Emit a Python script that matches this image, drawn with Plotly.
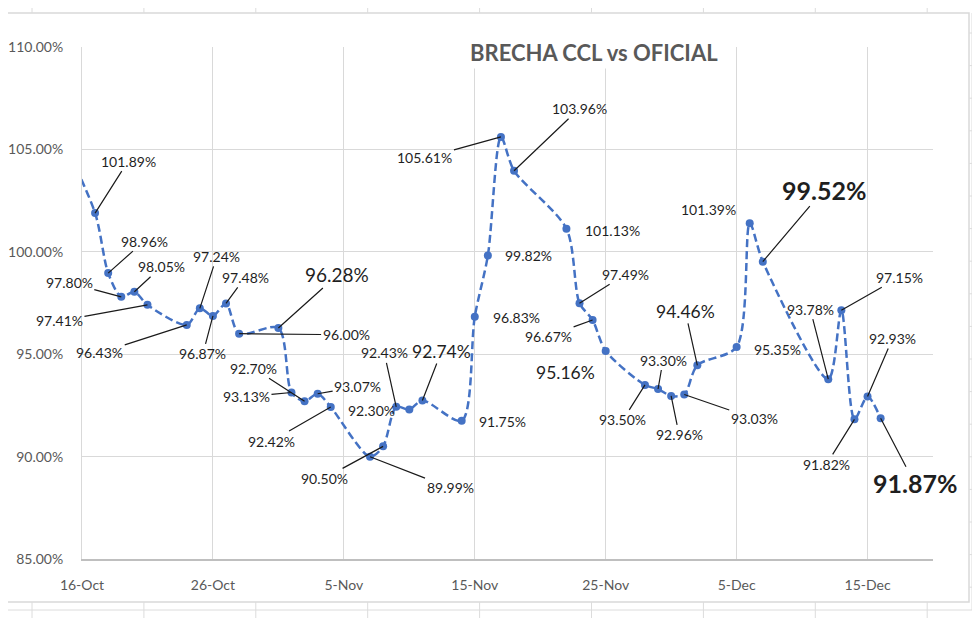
import plotly.graph_objects as go

# ---------------- data ----------------
dates = ["2022-10-14", "2022-10-17", "2022-10-18", "2022-10-19", "2022-10-20", "2022-10-21",
         "2022-10-24", "2022-10-25", "2022-10-26", "2022-10-27", "2022-10-28",
         "2022-10-31", "2022-11-01", "2022-11-02", "2022-11-03", "2022-11-04",
         "2022-11-07", "2022-11-08", "2022-11-09", "2022-11-10", "2022-11-11",
         "2022-11-14", "2022-11-15", "2022-11-16", "2022-11-17", "2022-11-18",
         "2022-11-22", "2022-11-23", "2022-11-24", "2022-11-25",
         "2022-11-28", "2022-11-29", "2022-11-30", "2022-12-01", "2022-12-02",
         "2022-12-05", "2022-12-06", "2022-12-07",
         "2022-12-12", "2022-12-13", "2022-12-14", "2022-12-15", "2022-12-16"]
brecha = [106.2, 101.89, 98.96, 97.80, 98.05, 97.41,
          96.43, 97.24, 96.87, 97.48, 96.00,
          96.28, 93.13, 92.70, 93.07, 92.42,
          89.99, 90.50, 92.43, 92.30, 92.74,
          91.75, 96.83, 99.82, 105.61, 103.96,
          101.13, 97.49, 96.67, 95.16,
          93.50, 93.30, 92.96, 93.03, 94.46,
          95.35, 101.39, 99.52,
          93.78, 97.15, 91.82, 92.93, 91.87]
tick_dates = ["2022-10-16", "2022-10-26", "2022-11-05", "2022-11-15",
              "2022-11-25", "2022-12-05", "2022-12-15"]
tick_labels = ["16-Oct", "26-Oct", "5-Nov", "15-Nov", "25-Nov", "5-Dec", "15-Dec"]
y_ticks = [85, 90, 95, 100, 105, 110]
title_text = "BRECHA CCL vs OFICIAL"

# ---------------- label placement (pixel offsets, style) ----------------
# one entry per labelled point (index 1..end); (ax, ay, font size, bold, leader line)
label_style = [
    (33, -52, 14, False, True),   # Oct17
    (36, -32, 14, False, True),   # Oct18
    (-52, -14, 14, False, True),  # Oct19
    (27, -25, 14, False, True),   # Oct20
    (-88, 16, 14, False, True),   # Oct21
    (-87, 28, 14, False, True),   # Oct24
    (17, -52, 14, False, True),   # Oct25
    (-10, 38, 14, False, True),   # Oct26
    (19, -26, 14, False, True),   # Oct27
    (107, 1, 14, False, True),    # Oct28
    (59, -53, 19, False, True),   # Oct31
    (-45, 4, 14, False, True),    # Nov1
    (-51, -33, 14, False, True),  # Nov2
    (40, -7, 14, False, True),    # Nov3
    (-59, 34, 14, False, True),   # Nov4
    (80, 31, 14, False, True),    # Nov7
    (-59, 32, 14, False, True),   # Nov8
    (-12, -54, 14, False, True),  # Nov9
    (-38, 1, 14, False, False),   # Nov10
    (19, -49, 17.5, False, True), # Nov11
    (41, 1, 14, False, False),    # Nov14
    (42, 1, 14, False, False),    # Nov15
    (41, 0, 14, False, False),    # Nov16
    (-76, 21, 14, False, True),   # Nov17
    (65, -62, 14, False, True),   # Nov18
    (46, 2, 14, False, False),    # Nov22
    (46, -29, 14, False, True),   # Nov23
    (-44, 16, 14, False, True),   # Nov24
    (-40, 22, 17.5, False, False),# Nov25
    (-22, 35, 14, False, True),   # Nov28
    (5, -29, 14, False, True),    # Nov29
    (8, 39, 14, False, True),     # Nov30
    (70, 24, 14, False, True),    # Dec1
    (-12, -54, 17.5, False, True),# Dec2
    (41, 2, 14, False, False),    # Dec5
    (-41, -14, 14, False, False), # Dec6
    (61, -72, 25, True, True),    # Dec7
    (-18, -70, 14, False, True),  # Dec12
    (58, -33, 14, False, True),   # Dec13
    (-28, 45, 14, False, True),   # Dec14
    (25, -58, 14, False, True),   # Dec15
    (34, 65, 25, True, True),     # Dec16
]

BLUE = "#4472C4"
GRID = "#D9D9D9"
FONT = "Lato"

W, H = 980, 618
OFF = 8                               # page (body) offset of the figure div
PL, PR, PT, PB = 82, 933, 47, 559     # plot area in page pixels


def px(x):
    return (x - PL) / (PR - PL)


def py(y):
    return (PB - y) / (PB - PT)


fig = go.Figure()
fig.add_trace(go.Scatter(
    x=dates, y=brecha, mode="lines+markers",
    line=dict(color=BLUE, width=2.5, dash="8px,4px", shape="spline", smoothing=0.8),
    marker=dict(color=BLUE, size=8),
    hoverinfo="skip", showlegend=False,
))

annotations = []
for d, v, (ax, ay, fs, bold, leader) in zip(dates[1:], brecha[1:], label_style):
    txt = f"{v:.2f}%"
    if bold:
        txt = f"<b>{txt}</b>"
    annotations.append(dict(
        x=d, y=v, xref="x", yref="y", text=txt, showarrow=True,
        ax=ax, ay=ay, arrowhead=0, arrowwidth=1.2, standoff=0,
        arrowcolor="#1a1a1a" if leader else "rgba(0,0,0,0)",
        font=dict(family=FONT, size=fs, color="#1f1f1f"),
    ))

annotations.append(dict(
    x=px(594), y=py(52), xref="paper", yref="paper", text=f"<b>{title_text}</b>",
    showarrow=False, xanchor="center", yanchor="middle", bgcolor="white", borderpad=2,
    font=dict(family=FONT, size=22, color="#595959"),
))

# chart frame and surrounding worksheet cell lines
shapes = [dict(type="rect", xref="paper", yref="paper", x0=px(6), x1=px(969), y0=py(602), y1=py(13),
               line=dict(color=GRID, width=1.5), layer="below")]
cell_col = "#DCDCDC"
shapes.append(dict(type="line", xref="paper", yref="paper", x0=px(0), x1=px(980), y0=py(610), y1=py(610),
                   line=dict(color=cell_col, width=1)))
shapes.append(dict(type="line", xref="paper", yref="paper", x0=px(972), x1=px(972), y0=py(13), y1=py(610),
                   line=dict(color=cell_col, width=1)))
for i in range(9):
    cx = 32 + 111.9 * i
    shapes.append(dict(type="line", xref="paper", yref="paper", x0=px(cx), x1=px(cx), y0=py(6), y1=py(13),
                       line=dict(color=cell_col, width=1)))
    shapes.append(dict(type="line", xref="paper", yref="paper", x0=px(cx), x1=px(cx), y0=py(602), y1=py(618),
                       line=dict(color=cell_col, width=1)))
for j in range(18):
    cy = 33 + 32.6 * j
    shapes.append(dict(type="line", xref="paper", yref="paper", x0=px(0), x1=px(6), y0=py(cy), y1=py(cy),
                       line=dict(color=cell_col, width=1)))
    shapes.append(dict(type="line", xref="paper", yref="paper", x0=px(969), x1=px(980), y0=py(cy), y1=py(cy),
                       line=dict(color=cell_col, width=1)))

fig.update_layout(
    width=W, height=H,
    margin=dict(l=PL - OFF, r=W - (PR - OFF), t=PT - OFF, b=H - (PB - OFF), autoexpand=False),
    paper_bgcolor="white", plot_bgcolor="white",
    annotations=annotations, shapes=shapes,
    font=dict(family=FONT),
)
fig.update_xaxes(
    type="date", range=["2022-10-16", "2022-12-20"],
    tickvals=tick_dates, ticktext=tick_labels,
    showgrid=True, gridcolor=GRID, gridwidth=1,
    showline=True, linecolor="#BFBFBF", linewidth=1.5,
    ticks="", ticklabelstandoff=12,
    tickfont=dict(family=FONT, size=14, color="#595959"),
    zeroline=False,
)
fig.update_yaxes(
    range=[85, 110], tickvals=y_ticks, ticktext=[f"{t:.2f}%" for t in y_ticks],
    showgrid=True, gridcolor=GRID, gridwidth=1,
    showline=True, linecolor=GRID, linewidth=1,
    ticks="", ticklabelstandoff=15,
    tickfont=dict(family=FONT, size=14, color="#595959"),
    zeroline=False,
)

fig.write_html("out.html")
